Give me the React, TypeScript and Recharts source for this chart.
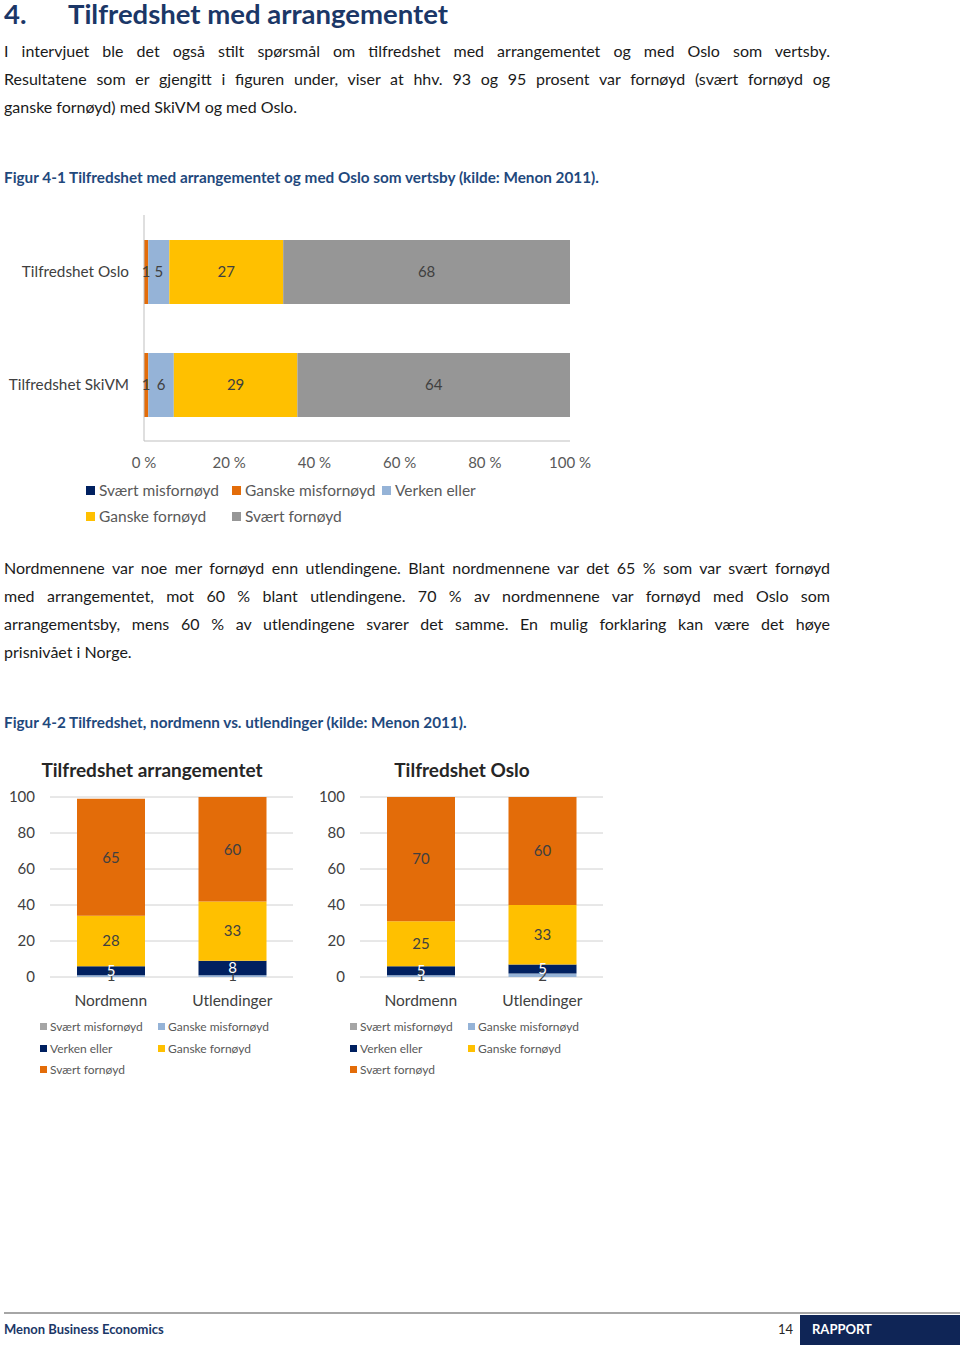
import React from 'react';
import { BarChart, Bar, XAxis, YAxis, CartesianGrid, LabelList, Legend } from 'recharts';

const FONT = 'Lato, "Open Sans", "DejaVu Sans", sans-serif';

// ---------- Page text ----------
const headingNumber = '4.';
const headingText = 'Tilfredshet med arrangementet';
const para1Lines = [
  'I intervjuet ble det også stilt spørsmål om tilfredshet med arrangementet og med Oslo som vertsby.',
  'Resultatene som er gjengitt i figuren under, viser at hhv. 93 og 95 prosent var fornøyd (svært fornøyd og',
  'ganske fornøyd) med SkiVM og med Oslo.',
];
const caption1 = 'Figur 4-1 Tilfredshet med arrangementet og med Oslo som vertsby (kilde: Menon 2011).';
const para2Lines = [
  'Nordmennene var noe mer fornøyd enn utlendingene. Blant nordmennene var det 65 % som var svært fornøyd',
  'med arrangementet, mot 60 % blant utlendingene. 70 % av nordmennene var fornøyd med Oslo som',
  'arrangementsby, mens 60 % av utlendingene svarer det samme. En mulig forklaring kan være det høye',
  'prisnivået i Norge.',
];
const caption2 = 'Figur 4-2 Tilfredshet, nordmenn vs. utlendinger (kilde: Menon 2011).';
const footerLeft = 'Menon Business Economics';
const footerPage = '14';
const footerRight = 'RAPPORT';

// ---------- Series ----------
const seriesKeys = ['sm', 'gm', 've', 'gf', 'sf'];
const seriesNames = ['Svært misfornøyd', 'Ganske misfornøyd', 'Verken eller', 'Ganske fornøyd', 'Svært fornøyd'];

// ---------- Figure 4-1 ----------
const fig1Categories = ['Tilfredshet Oslo', 'Tilfredshet SkiVM'];
const fig1SvaertMisfornoyd = [0, 0];
const fig1GanskeMisfornoyd = [1, 1];
const fig1VerkenEller = [5, 6];
const fig1GanskeFornoyd = [27, 29];
const fig1SvaertFornoyd = [68, 64];
const fig1Ticks = [0, 0.2, 0.4, 0.6, 0.8, 1];
const fig1TickLabels = ['0 %', '20 %', '40 %', '60 %', '80 %', '100 %'];
const fig1Colors = ['#002060', '#E36C09', '#95B3D7', '#FFC000', '#969696'];

// ---------- Figure 4-2 ----------
const fig2Categories = ['Nordmenn', 'Utlendinger'];
const arrTitle = 'Tilfredshet arrangementet';
const arrSvaertMisfornoyd = [0, 0];
const arrGanskeMisfornoyd = [1, 1];
const arrVerkenEller = [5, 8];
const arrGanskeFornoyd = [28, 33];
const arrSvaertFornoyd = [65, 60];
const osloTitle = 'Tilfredshet Oslo';
const osloSvaertMisfornoyd = [0, 0];
const osloGanskeMisfornoyd = [1, 2];
const osloVerkenEller = [5, 5];
const osloGanskeFornoyd = [25, 33];
const osloSvaertFornoyd = [70, 60];
const fig2Ticks = [0, 20, 40, 60, 80, 100];
const fig2Colors = ['#A5A5A5', '#95B3D7', '#002060', '#FFC000', '#E36C09'];
const fig2LabelColors = ['#404040', '#404040', '#FFFFFF', '#404040', '#404040'];

const buildRows = (cats: string[], series: number[][]) =>
  cats.map((name, i) => {
    const row: any = { name };
    seriesKeys.forEach((k, j) => (row[k] = series[j][i]));
    return row;
  });

const fig1Data = buildRows(fig1Categories, [
  fig1SvaertMisfornoyd, fig1GanskeMisfornoyd, fig1VerkenEller, fig1GanskeFornoyd, fig1SvaertFornoyd,
]);
const arrData = buildRows(fig2Categories, [
  arrSvaertMisfornoyd, arrGanskeMisfornoyd, arrVerkenEller, arrGanskeFornoyd, arrSvaertFornoyd,
]);
const osloData = buildRows(fig2Categories, [
  osloSvaertMisfornoyd, osloGanskeMisfornoyd, osloVerkenEller, osloGanskeFornoyd, osloSvaertFornoyd,
]);

const hideZero = (v: any) => (v ? v : '');

const makeLegend = (colLefts: number[], rowCenters: number[], sq: number, fs: number, gap: number, color: string) =>
  (props: any) => {
    const payload = props.payload || [];
    const ncol = colLefts.length;
    return (
      <div style={{ position: 'relative', width: '100%', height: '100%', fontFamily: FONT }}>
        {payload.map((p: any) => {
          const idx = seriesNames.indexOf(p.value);
          const col = idx % ncol;
          const row = Math.floor(idx / ncol);
          const cy = rowCenters[row];
          return (
            <div key={p.value} style={{ position: 'absolute', left: colLefts[col], top: cy - fs, height: fs * 2, display: 'flex', alignItems: 'center', whiteSpace: 'nowrap' }}>
              <span style={{ display: 'inline-block', width: sq, height: sq, background: p.color, marginRight: gap }} />
              <span style={{ fontSize: fs, color }}>{p.value}</span>
            </div>
          );
        })}
      </div>
    );
  };

const Fig1 = () => (
  <BarChart
    width={600}
    height={340}
    data={fig1Data}
    layout="vertical"
    stackOffset="expand"
    margin={{ top: 15, right: 30, bottom: 69, left: 8 }}
    barSize={64}
  >
    <XAxis
      type="number"
      domain={[0, 1]}
      ticks={fig1Ticks}
      tickFormatter={(v: number) => fig1TickLabels[fig1Ticks.indexOf(v)] ?? ''}
      axisLine={{ stroke: '#BFBFBF' }}
      tickLine={false}
      tickSize={0}
      tickMargin={16}
      height={30}
      tick={{ fill: '#595959', fontSize: 15, fontFamily: FONT }}
      interval={0}
    />
    <YAxis
      type="category"
      dataKey="name"
      width={136}
      axisLine={{ stroke: '#BFBFBF' }}
      tickLine={false}
      tickSize={0}
      tickMargin={15}
      tick={{ fill: '#404040', fontSize: 15.3, fontFamily: FONT }}
    />
    {seriesKeys.map((k, i) => (
      <Bar key={k} dataKey={k} name={seriesNames[i]} stackId="a" fill={fig1Colors[i]} isAnimationActive={false}>
        <LabelList dataKey={k} position="center" fill="#404040" fontSize={15} fontFamily={FONT} formatter={hideZero} />
      </Bar>
    ))}
    <Legend
      layout="vertical"
      align="center"
      verticalAlign="middle"
      wrapperStyle={{ left: 0, top: 0, width: 600, height: 340, pointerEvents: 'none' }}
      content={makeLegend([86, 232, 382], [290, 316], 9, 15.5, 4, '#595959')}
    />
  </BarChart>
);

const SmallChart = ({ data }: { data: any[] }) => (
  <BarChart width={310} height={310} data={data} margin={{ top: 17, right: 17, bottom: 83, left: 0 }} barSize={68}>
    <CartesianGrid vertical={false} stroke="#D0D0D0" />
    <XAxis
      dataKey="name"
      axisLine={false}
      tickLine={false}
      tickSize={0}
      tickMargin={18}
      height={30}
      tick={{ fill: '#404040', fontSize: 15.5, fontFamily: FONT }}
    />
    <YAxis
      type="number"
      domain={[0, 100]}
      ticks={fig2Ticks}
      allowDataOverflow
      width={50}
      axisLine={false}
      tickLine={false}
      tickSize={0}
      tickMargin={15}
      interval={0}
      tick={{ fill: '#404040', fontSize: 15, fontFamily: FONT }}
    />
    {seriesKeys.map((k, i) => (
      <Bar key={k} dataKey={k} name={seriesNames[i]} stackId="a" fill={fig2Colors[i]} isAnimationActive={false}>
        <LabelList dataKey={k} position="center" fill={fig2LabelColors[i]} fontSize={15} fontFamily={FONT} formatter={hideZero} />
      </Bar>
    ))}
    <Legend
      layout="vertical"
      align="center"
      verticalAlign="middle"
      wrapperStyle={{ left: 0, top: 0, width: 310, height: 310, pointerEvents: 'none' }}
      content={makeLegend([40, 158], [246, 268, 289], 7, 12, 3, '#595959')}
    />
  </BarChart>
);

const bodyLine = (text: string, top: number, justify: boolean, key: string) => (
  <div
    key={key}
    style={{
      position: 'absolute',
      left: 4,
      top,
      width: 826,
      height: 22,
      lineHeight: '22px',
      fontSize: 16,
      color: '#1A1A1A',
      whiteSpace: 'nowrap',
      textAlign: justify ? 'justify' : 'left',
      textAlignLast: justify ? 'justify' : 'left',
    }}
  >
    {text}
  </div>
);

const headingStyle: React.CSSProperties = {
  position: 'absolute',
  top: 0,
  fontSize: 27.5,
  fontWeight: 700,
  color: '#1B3767',
  lineHeight: '27px',
  whiteSpace: 'nowrap',
};

const captionStyle: React.CSSProperties = {
  position: 'absolute',
  left: 4,
  fontSize: 15.3,
  fontWeight: 700,
  color: '#1F497D',
  lineHeight: '18px',
  whiteSpace: 'nowrap',
};

const titleStyle: React.CSSProperties = {
  position: 'absolute',
  width: 300,
  top: 758,
  textAlign: 'center',
  fontSize: 19,
  fontWeight: 700,
  color: '#262626',
  lineHeight: '24px',
};

export default function App() {
  return (
    <div style={{ position: 'absolute', left: 0, top: 0, width: 960, height: 1345, background: '#fff', overflow: 'hidden', fontFamily: FONT }}>
      {/* Heading */}
      <div style={{ ...headingStyle, left: 4 }}>{headingNumber}</div>
      <div style={{ ...headingStyle, left: 68 }}>{headingText}</div>

      {para1Lines.map((t, i) => bodyLine(t, 40 + i * 28, i < para1Lines.length - 1, 'p1' + i))}

      <div style={{ ...captionStyle, top: 168 }}>{caption1}</div>

      <div style={{ position: 'absolute', left: 0, top: 200 }}>
        <Fig1 />
      </div>

      {para2Lines.map((t, i) => bodyLine(t, 557 + i * 28, i < para2Lines.length - 1, 'p2' + i))}

      <div style={{ ...captionStyle, top: 713 }}>{caption2}</div>

      {/* Figure 4-2 titles */}
      <div style={{ ...titleStyle, left: 2 }}>{arrTitle}</div>
      <div style={{ ...titleStyle, left: 312 }}>{osloTitle}</div>

      <div style={{ position: 'absolute', left: 0, top: 780 }}>
        <SmallChart data={arrData} />
      </div>
      <div style={{ position: 'absolute', left: 310, top: 780 }}>
        <SmallChart data={osloData} />
      </div>

      {/* Footer */}
      <div style={{ position: 'absolute', left: 4, top: 1312, width: 956, height: 2, background: '#A6A6A6' }} />
      <div style={{ position: 'absolute', left: 800, top: 1315, width: 160, height: 30, background: '#0F2556' }} />
      <div style={{ position: 'absolute', left: 4, top: 1320, fontSize: 13, fontWeight: 700, color: '#1B3767', lineHeight: '18px' }}>{footerLeft}</div>
      <div style={{ position: 'absolute', left: 778, top: 1320, fontSize: 13, color: '#262626', lineHeight: '18px' }}>{footerPage}</div>
      <div style={{ position: 'absolute', left: 812, top: 1320, fontSize: 13, fontWeight: 700, color: '#FFFFFF', lineHeight: '18px' }}>{footerRight}</div>
    </div>
  );
}
